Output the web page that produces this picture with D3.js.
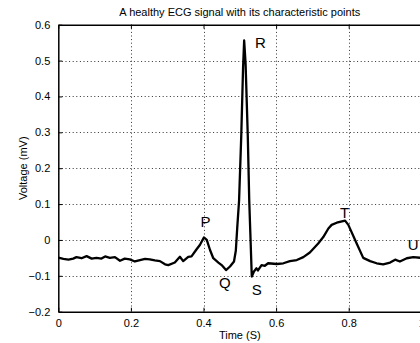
<!DOCTYPE html>
<html>
<head>
<meta charset="utf-8">
<script src="https://cdn.jsdelivr.net/npm/d3@7"></script>
<style>
  body { margin: 0; background: #fff; }
  svg { display: block; font-family: "Liberation Sans", Arial, sans-serif; }
</style>
</head>
<body>
<svg id="chart"></svg>
<script>
// ECG signal
var time = [0.000, 0.014, 0.028, 0.041, 0.050, 0.064, 0.078, 0.092, 0.105, 0.119,
    0.129, 0.142, 0.156, 0.170, 0.183, 0.197, 0.211, 0.225, 0.239, 0.252,
    0.266, 0.280, 0.294, 0.303, 0.321, 0.335, 0.344, 0.358, 0.367, 0.381,
    0.390, 0.401, 0.409, 0.418, 0.427, 0.441, 0.450, 0.462, 0.473, 0.484,
    0.489, 0.493, 0.498, 0.504, 0.509, 0.512, 0.516, 0.522, 0.526, 0.529,
    0.533, 0.539, 0.546, 0.550, 0.560, 0.569, 0.578, 0.602, 0.620, 0.638,
    0.657, 0.675, 0.693, 0.716, 0.730, 0.744, 0.753, 0.767, 0.790, 0.799,
    0.822, 0.840, 0.859, 0.877, 0.895, 0.914, 0.928, 0.941, 0.960, 0.978, 1.000];
var voltage = [-0.049, -0.053, -0.055, -0.052, -0.048, -0.051, -0.045, -0.052, -0.050, -0.052,
    -0.046, -0.050, -0.048, -0.058, -0.052, -0.054, -0.060, -0.056, -0.053, -0.054,
    -0.057, -0.059, -0.068, -0.070, -0.063, -0.047, -0.059, -0.047, -0.046, -0.026,
    -0.014, 0.007, 0.000, -0.028, -0.051, -0.063, -0.070, -0.084, -0.074, -0.060,
    -0.030, 0.035, 0.110, 0.290, 0.480, 0.556, 0.490, 0.290, 0.110, 0.020,
    -0.102, -0.088, -0.079, -0.085, -0.070, -0.072, -0.065, -0.067, -0.065, -0.059,
    -0.056, -0.048, -0.035, -0.010, 0.008, 0.032, 0.042, 0.048, 0.054, 0.042,
    -0.010, -0.050, -0.059, -0.065, -0.068, -0.063, -0.055, -0.060, -0.051, -0.048, -0.050];

var xTicks = [0, 0.2, 0.4, 0.6, 0.8, 1];
var yTicks = [-0.2, -0.1, 0, 0.1, 0.2, 0.3, 0.4, 0.5, 0.6];

// characteristic point labels (data coordinates of text start)
var pointNames = ["P", "Q", "R", "S", "T", "U"];
var pointT = [0.392, 0.443, 0.542, 0.533, 0.776, 0.963];
var pointV = [0.037, -0.134, 0.534, -0.153, 0.060, -0.028];

var svgWidth = 420, svgHeight = 343;
var mLeft = 58.3, mTop = 24.7, plotW = 363, plotH = 287;

var svg = d3.select("#chart").attr("width", svgWidth).attr("height", svgHeight);

var x = d3.scaleLinear().domain([0, 1]).range([mLeft, mLeft + plotW]);
var y = d3.scaleLinear().domain([-0.2, 0.6]).range([mTop + plotH, mTop]);

// grid
var grid = svg.append("g").attr("stroke", "#333").attr("stroke-width", 1)
    .attr("stroke-dasharray", "1,2.6");
grid.selectAll(".gx").data(xTicks.slice(1)).enter().append("line")
    .attr("x1", d => Math.round(x(d)) + 0.5).attr("x2", d => Math.round(x(d)) + 0.5)
    .attr("y1", mTop).attr("y2", mTop + plotH);
grid.selectAll(".gy").data(yTicks.slice(1, -1)).enter().append("line")
    .attr("x1", mLeft).attr("x2", mLeft + plotW)
    .attr("y1", d => Math.round(y(d)) + 0.5).attr("y2", d => Math.round(y(d)) + 0.5);

// signal
var line = d3.line()
    .x((d, i) => x(time[i]))
    .y(d => y(d));

svg.append("path")
    .attr("d", line(voltage))
    .attr("fill", "none")
    .attr("stroke", "#000")
    .attr("stroke-width", 2.3)
    .attr("stroke-linejoin", "round");

// axes, MATLAB style: ticks inside
var xAxis = d3.axisBottom(x).tickValues(xTicks).tickSizeInner(-4).tickSizeOuter(0)
    .tickPadding(8).tickFormat(d3.format("~g"));
var gx = svg.append("g").attr("transform", "translate(0," + (mTop + plotH) + ")").call(xAxis);

var minusFmt = d => d3.format("~g")(d).replace("-", "\u2212");
var yAxis = d3.axisLeft(y).tickValues(yTicks).tickSizeInner(-4).tickSizeOuter(0)
    .tickPadding(8).tickFormat(minusFmt);
var gy = svg.append("g").attr("transform", "translate(" + mLeft + ",0)").call(yAxis);

var gTop = svg.append("g").attr("transform", "translate(0," + mTop + ")")
    .call(d3.axisTop(x).tickValues(xTicks).tickSizeInner(-4).tickSizeOuter(0).tickFormat(""));

[gx, gy, gTop].forEach(g => {
    g.selectAll("path").attr("stroke", "#000").attr("stroke-width", 1.5);
    g.selectAll("line").attr("stroke", "#000");
    g.selectAll("text").attr("fill", "#000").style("font-size", "11px")
        .style("font-family", "Liberation Sans, Arial, sans-serif");
});

// titles
svg.append("text").attr("x", x(0.5)).attr("y", 16).attr("text-anchor", "middle")
    .style("font-size", "11px").text("A healthy ECG signal with its characteristic points");
svg.append("text").attr("x", x(0.5)).attr("y", 338.5).attr("text-anchor", "middle")
    .style("font-size", "11px").text("Time (S)");
svg.append("text").attr("transform", "translate(27," + y(0.2) + ") rotate(-90)")
    .attr("text-anchor", "middle").style("font-size", "11px").text("Voltage (mV)");

// point labels
svg.selectAll(".lbl").data(pointNames).enter().append("text")
    .attr("x", (d, i) => x(pointT[i]))
    .attr("y", (d, i) => y(pointV[i]))
    .style("font-size", "15px")
    .text(d => d);
</script>
</body>
</html>
